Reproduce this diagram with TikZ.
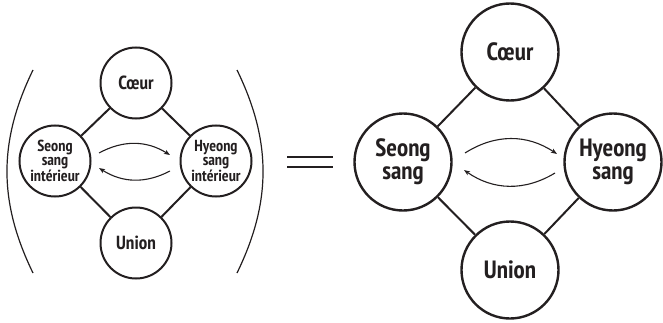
\documentclass[tikz,border=0pt]{standalone}
\usepackage{fontspec}
\newfontfamily\labelfont{PT Sans Narrow}[BoldFont={PT Sans Narrow Bold}]
\usetikzlibrary{arrows.meta,calc}

\definecolor{ink}{HTML}{231F20}

\tikzset{
  bigcirc/.style={circle, draw=ink, line width=2.4pt, minimum size=97pt, inner sep=0pt,
    text=ink, font=\labelfont\bfseries\fontsize{25}{23}\selectfont, align=center},
  smallcirc/.style={circle, draw=ink, line width=2pt, minimum size=71pt, inner sep=0pt,
    text=ink, font=\labelfont\bfseries\fontsize{16}{14.6}\selectfont, align=center},
  smallbig/.style={smallcirc, font=\labelfont\bfseries\fontsize{19}{16}\selectfont},
  link/.style={draw=ink, line width=2pt},
  flow/.style={draw=ink, line width=1.1pt, -{Stealth[length=6pt,width=4.5pt,inset=1.5pt]}},
  paren/.style={draw=ink, line width=1.2pt},
  eqbar/.style={draw=ink, line width=2.2pt}
}

\begin{document}
\begin{tikzpicture}[x=1pt, y=1pt]
  \useasboundingbox (0,0) rectangle (663,322);

  % inner structure, left side
  \node[smallbig]  (lC) at (136,239) {Cœur};
  \node[smallbig]  (lU) at (136,79)  {Union};
  \node[smallcirc] (lS) at (55,161)  {Seong\\sang\\intérieur};
  \node[smallcirc] (lH) at (216,161) {Hyeong\\sang\\intérieur};

  \draw[link] (lC) -- (lS);
  \draw[link] (lC) -- (lH);
  \draw[link] (lU) -- (lS);
  \draw[link] (lU) -- (lH);

  \draw[flow] ($(lS)+(44,8)$) to[bend left=30] ($(lH)+(-46,6)$);
  \draw[flow] ($(lH)+(-46,-10)$) to[bend left=30] ($(lS)+(44,-7)$);

  % enclosing parentheses
  \coordinate (pLt) at (33,252);
  \coordinate (pLb) at (33,49);
  \coordinate (pRt) at (237,252);
  \coordinate (pRb) at (237,49);
  \draw[paren] (pLt) to[bend right=26] (pLb);
  \draw[paren] (pRt) to[bend left=26] (pRb);

  % equals sign
  \coordinate (e1a) at (287,165);
  \coordinate (e1b) at (333,165);
  \coordinate (e2a) at (287,155);
  \coordinate (e2b) at (333,155);
  \draw[eqbar] (e1a) -- (e1b);
  \draw[eqbar] (e2a) -- (e2b);

  % outer structure, right side
  \node[bigcirc] (rC) at (510,270) {Cœur};
  \node[bigcirc] (rU) at (510,52)  {Union};
  \node[bigcirc] (rS) at (403,160) {Seong\\sang};
  \node[bigcirc] (rH) at (613,160) {Hyeong\\sang};

  \draw[link] (rC) -- (rS);
  \draw[link] (rC) -- (rH);
  \draw[link] (rU) -- (rS);
  \draw[link] (rU) -- (rH);

  \draw[flow] ($(rS)+(62,9)$) to[bend left=33] ($(rH)+(-56,8)$);
  \draw[flow] ($(rH)+(-58,-11)$) to[bend left=33] ($(rS)+(61,-8)$);
\end{tikzpicture}
\end{document}
